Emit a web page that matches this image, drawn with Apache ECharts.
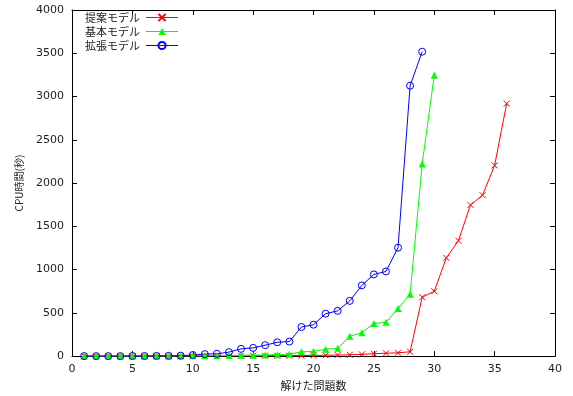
<!DOCTYPE html>
<html>
<head>
<meta charset="utf-8">
<script src="https://cdn.jsdelivr.net/npm/echarts@6/dist/echarts.min.js"></script>
<style>
  html, body { margin: 0; padding: 0; background: #fff; }
  #chart { width: 573px; height: 396px; }
</style>
</head>
<body>
<div id="chart"></div>
<script>
const seriesNames = ['提案モデル', '基本モデル', '拡張モデル'];

// 提案モデル: problems 1..36
const proposed = [
  0, 0, 0, 0, 0, 0, 0, 0, 1, 1,
  1, 2, 2, 3, 3, 4, 5, 5, 6, 8,
  10, 12, 15, 20, 28, 33, 38, 50, 680, 749,
  1135, 1333, 1746, 1860, 2204, 2919,
];
// 基本モデル: problems 1..30
const basic = [
  0, 0, 0, 0, 1, 1, 1, 2, 2, 3,
  4, 5, 7, 9, 11, 14, 17, 22, 50, 55,
  80, 92, 229, 271, 378, 390, 550, 714, 2220, 3247,
];
// 拡張モデル: problems 1..29
const extended = [
  0, 0, 0, 0, 1, 1, 2, 3, 5, 12,
  23, 27, 46, 84, 95, 126, 160, 168, 336, 363,
  490, 523, 638, 817, 944, 978, 1253, 3125, 3518,
];

const toPoints = (vals) => vals.map((v, i) => [i + 1, v]);

const crossPath = 'path://M0,0L10,10M10,0L0,10';
const fontFamily = '"DejaVu Sans", "Noto Sans CJK JP", sans-serif';
const jpFont = '"Noto Sans CJK JP", sans-serif';
const textColor = '#222';

const axisCommon = {
  axisLine: { show: true, onZero: false, lineStyle: { color: '#000', width: 1 } },
  axisTick: { show: true, inside: true, length: 5, lineStyle: { color: '#000' } },
  splitLine: { show: false },
};
const plainNumber = (v) => String(v);

const chart = echarts.init(document.getElementById('chart'));
chart.setOption({
  backgroundColor: '#fff',
  animation: false,
  textStyle: { fontFamily },
  grid: { left: 72, right: 18, top: 10, bottom: 37 },
  legend: {
    left: 85,
    top: 12,
    padding: 0,
    orient: 'vertical',
    align: 'right',
    itemGap: 3,
    itemWidth: 32,
    itemHeight: 9,
    lineStyle: { width: 1 },
    textStyle: { fontSize: 11, color: textColor, fontFamily: jpFont, padding: [0, 1, 0, 0] },
    data: seriesNames,
  },
  xAxis: [
    {
      type: 'value', min: 0, max: 40, interval: 5, position: 'bottom',
      ...axisCommon,
      axisLabel: { color: textColor, fontSize: 11, margin: 8, formatter: plainNumber },
      name: '解けた問題数', nameLocation: 'middle', nameGap: 22,
      nameTextStyle: { color: textColor, fontSize: 11, fontFamily: jpFont },
    },
    {
      type: 'value', min: 0, max: 40, interval: 5, position: 'top',
      ...axisCommon,
      axisLabel: { show: false },
    },
  ],
  yAxis: [
    {
      type: 'value', min: 0, max: 4000, interval: 500, position: 'left',
      ...axisCommon,
      axisLabel: { color: textColor, fontSize: 11, margin: 8, formatter: plainNumber },
      name: 'CPU時間(秒)', nameLocation: 'middle', nameGap: 48, nameRotate: 90,
      nameTextStyle: { color: textColor, fontSize: 10, fontFamily: jpFont },
    },
    {
      type: 'value', min: 0, max: 4000, interval: 500, position: 'right',
      ...axisCommon,
      axisLabel: { show: false },
    },
  ],
  series: [
    {
      name: seriesNames[0],
      type: 'line',
      data: toPoints(proposed),
      symbol: crossPath,
      symbolSize: 6,
      showAllSymbol: true,
      lineStyle: { color: '#ff0000', width: 1 },
      itemStyle: { color: 'rgba(0,0,0,0)', borderColor: '#ff0000', borderWidth: 1 },
    },
    {
      name: seriesNames[1],
      type: 'line',
      data: toPoints(basic),
      symbol: 'triangle',
      symbolSize: 7,
      showAllSymbol: true,
      lineStyle: { color: '#00ff00', width: 1 },
      itemStyle: { color: '#00ff00' },
    },
    {
      name: seriesNames[2],
      type: 'line',
      data: toPoints(extended),
      symbol: 'circle',
      symbolSize: 7,
      showAllSymbol: true,
      lineStyle: { color: '#0000ff', width: 1 },
      itemStyle: { color: 'rgba(0,0,0,0)', borderColor: '#0000ff', borderWidth: 1 },
    },
  ],
});
</script>
</body>
</html>
